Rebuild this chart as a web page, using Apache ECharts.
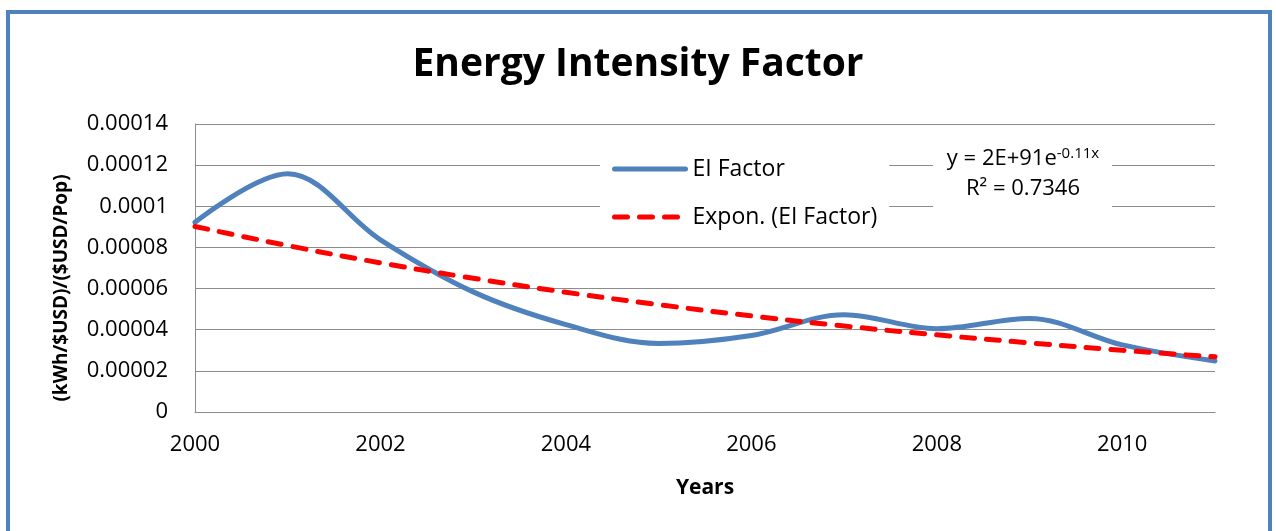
<!DOCTYPE html>
<html>
<head>
<meta charset="utf-8">
<script src="https://cdn.jsdelivr.net/npm/echarts@6/dist/echarts.min.js"></script>
<style>
  html, body { margin: 0; padding: 0; background: #fff; }
  #chart { width: 1276px; height: 531px; }
</style>
</head>
<body>
<div id="chart"></div>
<script>
// Yearly energy-intensity factor and its exponential trend
const years = [2000, 2001, 2002, 2003, 2004, 2005, 2006, 2007, 2008, 2009, 2010, 2011];
const eiFactor = [0.0000922, 0.0001158, 0.0000837, 0.0000584, 0.0000425, 0.0000333,
                  0.0000372, 0.0000473, 0.0000405, 0.0000455, 0.0000326, 0.0000248];
const expTrend = [0.0000902, 0.0000809, 0.0000725, 0.0000650, 0.0000582, 0.0000522,
                  0.0000467, 0.0000418, 0.0000375, 0.0000336, 0.0000300, 0.0000268];
const yTicks = ['0', '0.00002', '0.00004', '0.00006', '0.00008', '0.0001', '0.00012', '0.00014'];

const FONT = '"Open Sans", "Noto Sans", sans-serif';
const GRID_GRAY = '#8c8c8c';
const BLUE = '#4f81bd';
const RED = '#ff0000';
const DASH = [13, 12];

const chart = echarts.init(document.getElementById('chart'), null, { renderer: 'canvas' });

chart.setOption({
  animation: false,
  backgroundColor: '#fff',
  title: {
    text: 'Energy Intensity Factor',
    left: 'center',
    top: 40,
    textStyle: { fontFamily: FONT, fontWeight: 'bold', fontSize: 39, color: '#000' }
  },
  grid: { left: 195, right: 61, top: 124, bottom: 119 },
  legend: {
    orient: 'vertical',
    left: 600,
    top: 147,
    padding: [8, 12, 10, 12],
    backgroundColor: '#fff',
    itemWidth: 71,
    itemHeight: 5,
    itemGap: 20,
    textStyle: { fontFamily: FONT, fontSize: 23, lineHeight: 28, color: '#000', padding: [0, 0, 0, 2] },
    data: [
      {
        name: 'EI Factor',
        itemStyle: { opacity: 0 },
        lineStyle: { color: BLUE, width: 5, cap: 'round' }
      },
      {
        name: 'Expon. (EI Factor)',
        itemStyle: { opacity: 0 },
        lineStyle: { color: RED, width: 5, type: DASH, cap: 'round' }
      }
    ]
  },
  xAxis: {
    type: 'value',
    min: 2000,
    max: 2011,
    interval: 2,
    name: 'Years',
    nameLocation: 'middle',
    nameGap: 66,
    nameTextStyle: { fontFamily: FONT, fontWeight: 'bold', fontSize: 21, color: '#000' },
    axisLine: { lineStyle: { color: GRID_GRAY, width: 1 } },
    axisTick: { show: false },
    splitLine: { show: false },
    axisLabel: {
      showMaxLabel: false,
      margin: 22,
      fontFamily: FONT, fontSize: 22, color: '#000',
      formatter: v => String(v)
    }
  },
  yAxis: {
    type: 'value',
    min: 0,
    max: 0.00014,
    interval: 0.00002,
    name: '(kWh/$USD)/($USD/Pop)',
    nameLocation: 'middle',
    nameRotate: 90,
    nameGap: 124,
    nameTextStyle: {
      fontFamily: FONT, fontWeight: 'bold', fontSize: 19, color: '#000',
      padding: [0, 40, 0, 0]
    },
    axisLine: { show: true, lineStyle: { color: GRID_GRAY, width: 1 } },
    axisTick: { show: false },
    splitLine: { lineStyle: { color: GRID_GRAY, width: 1 } },
    axisLabel: {
      margin: 27,
      fontFamily: FONT, fontSize: 22, color: '#000',
      formatter: (v, i) => yTicks[i]
    }
  },
  series: [
    {
      name: 'EI Factor',
      type: 'line',
      data: years.map((y, i) => [y, eiFactor[i]]),
      smooth: 0.35,
      showSymbol: false,
      symbol: 'none',
      z: 2,
      lineStyle: { color: BLUE, width: 5, cap: 'round' },
      itemStyle: { color: BLUE }
    },
    {
      name: 'Expon. (EI Factor)',
      type: 'line',
      data: years.map((y, i) => [y, expTrend[i]]),
      smooth: 0.5,
      showSymbol: false,
      symbol: 'none',
      z: 3,
      lineStyle: { color: RED, width: 5, type: DASH, cap: 'round' },
      itemStyle: { color: RED }
    }
  ],
  graphic: [
    // outer chart-area frame
    {
      type: 'rect',
      shape: { x: 8, y: 12, width: 1262, height: 540 },
      style: { fill: 'none', stroke: BLUE, lineWidth: 4 },
      silent: true, z: 100
    },
    // trendline equation label
    {
      type: 'rect',
      shape: { x: 933, y: 140, width: 179, height: 72 },
      style: { fill: '#fff' },
      z: 50
    },
    {
      type: 'text',
      x: 1023,
      y: 144,
      z: 51,
      style: {
        text: '{a|y = 2E+91e}{s|-0.11x}\n{a|R² = 0.7346}',
        align: 'center',
        fontFamily: FONT,
        fill: '#000',
        rich: {
          a: { fontFamily: FONT, fontSize: 22, lineHeight: 30, fill: '#000' },
          s: { fontFamily: FONT, fontSize: 15, lineHeight: 30, fill: '#000', padding: [0, 0, 11, 0] }
        }
      }
    }
  ]
});
</script>
</body>
</html>
